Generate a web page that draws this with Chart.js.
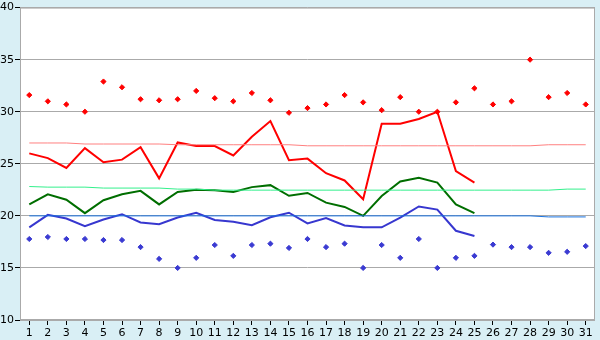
<!DOCTYPE html>
<html>
<head>
  <title>Daily temperatures</title>
  <script src="https://cdn.jsdelivr.net/npm/chart.js"></script>
  <style>
    html, body { margin: 0; padding: 0; background: #d9eff5; }
    #wrap { width: 600px; height: 340px; }
  </style>
</head>
<body>
  <div id="wrap"><canvas id="temps" width="600" height="340"></canvas></div>
  <script>
    const days = ["1","2","3","4","5","6","7","8","9","10","11","12","13","14","15","16",
                  "17","18","19","20","21","22","23","24","25","26","27","28","29","30","31"];

    // daily observed values (month in progress, up to day 25)
    const maxTemp  = [26.0,25.55,24.6,26.5,25.15,25.4,26.6,23.6,27.05,26.7,26.7,25.8,27.6,29.1,25.35,25.5,24.1,23.4,21.6,28.85,28.85,29.3,30.0,24.3,23.2];
    const meanTemp = [21.1,22.07,21.55,20.26,21.5,22.07,22.4,21.1,22.3,22.5,22.45,22.3,22.76,22.95,21.93,22.2,21.27,20.86,20.0,21.9,23.3,23.65,23.2,21.1,20.26];
    const minTemp  = [18.9,20.1,19.75,19.0,19.65,20.16,19.36,19.2,19.84,20.3,19.6,19.43,19.1,19.87,20.3,19.27,19.8,19.08,18.9,18.9,19.84,20.9,20.6,18.57,18.07];

    // records
    const recordHigh = [31.6,31.0,30.7,30.0,32.9,32.35,31.2,31.1,31.2,32.0,31.3,31.0,31.8,31.1,29.9,30.35,30.7,31.6,30.9,30.15,31.4,30.0,30.0,30.9,32.25,30.7,31.0,35.0,31.4,31.8,30.7];
    const recordLow  = [17.78,17.97,17.78,17.78,17.68,17.68,17.0,15.87,15.0,15.97,17.2,16.16,17.2,17.33,16.92,17.78,17.0,17.33,15.0,17.2,15.97,17.78,15.0,15.97,16.16,17.24,17.0,17.0,16.45,16.55,17.1];

    // normals
    const normalMax  = [27.0,27.0,27.0,26.9,26.9,26.9,26.9,26.9,26.83,26.83,26.83,26.83,26.83,26.83,26.83,26.73,26.73,26.73,26.73,26.73,26.73,26.73,26.73,26.73,26.73,26.73,26.73,26.73,26.83,26.83,26.83];
    const normalMean = [22.82,22.76,22.76,22.76,22.67,22.67,22.67,22.67,22.57,22.57,22.47,22.47,22.47,22.47,22.47,22.47,22.47,22.47,22.47,22.47,22.47,22.47,22.47,22.47,22.47,22.47,22.47,22.47,22.47,22.57,22.57];
    const normalMin  = [20.0,20.0,20.0,20.0,20.0,20.0,20.0,20.0,20.0,20.0,20.0,20.0,20.0,20.0,20.0,20.0,20.0,20.0,20.0,20.0,20.0,20.0,20.0,20.0,20.0,20.0,20.0,20.0,19.9,19.9,19.9];

    const yTicks = [10, 15, 20, 25, 30, 35, 40];

    // white plot area + grey frame on light blue page
    const plotFrame = {
      id: "plotFrame",
      beforeDraw(chart) {
        const c = chart.ctx, a = chart.chartArea;
        c.save();
        c.fillStyle = "#d9eff5";
        c.fillRect(0, 0, chart.width, chart.height);
        c.fillStyle = "#ffffff";
        c.fillRect(a.left, a.top, a.right - a.left, a.bottom - a.top);
        c.restore();
      },
      beforeDatasetsDraw(chart) {
        const c = chart.ctx, a = chart.chartArea;
        c.save();
        c.strokeStyle = "#aaaaaa";
        c.lineWidth = 1;
        c.strokeRect(a.left + 0.5, a.top + 0.5, a.right - a.left - 1, a.bottom - a.top - 1);
        c.restore();
      }
    };

    function thinLine(data, color) {
      return { type: "line", data: data, borderColor: color, borderWidth: 1, pointRadius: 0, tension: 0, fill: false };
    }
    function mainLine(data, color) {
      return { type: "line", data: data, borderColor: color, borderWidth: 2, pointRadius: 0, tension: 0, fill: false };
    }
    function marks(data, color) {
      return { type: "line", data: data, showLine: false, pointStyle: "rectRot", pointRadius: 2.6,
               pointBackgroundColor: color, pointBorderColor: color, pointBorderWidth: 1 };
    }

    new Chart(document.getElementById("temps"), {
      data: {
        labels: days,
        datasets: [
          thinLine(normalMax, "#ff8080"),
          thinLine(normalMean, "#33f08c"),
          thinLine(normalMin, "#1a73e0"),
          mainLine(maxTemp, "#ff0000"),
          mainLine(meanTemp, "#006e00"),
          mainLine(minTemp, "#3737cf"),
          marks(recordHigh, "#ff0000"),
          marks(recordLow, "#3a3ad2")
        ]
      },
      options: {
        responsive: false,
        animation: false,
        layout: { padding: { top: 5, right: 5, left: 0, bottom: 0 } },
        plugins: { legend: { display: false }, tooltip: { enabled: false } },
        scales: {
          x: {
            offset: true,
            afterFit(s) { s.height = 20; },
            grid: { drawOnChartArea: false, drawTicks: true, tickLength: 5, tickColor: "#000000", offset: false },
            border: { display: false },
            ticks: { color: "#000000", font: { family: "DejaVu Sans", size: 11 }, padding: 2, maxRotation: 0, autoSkip: false }
          },
          y: {
            min: 10,
            max: 40,
            afterFit(s) { s.width = 20; },
            afterBuildTicks(s) { s.ticks = yTicks.map(v => ({ value: v })); },
            grid: { color: "#aaaaaa", tickColor: "#000000", tickLength: 5, drawTicks: true },
            border: { display: false },
            ticks: { color: "#000000", font: { family: "DejaVu Sans", size: 11 }, padding: 1 }
          }
        }
      },
      plugins: [plotFrame]
    });
  </script>
</body>
</html>
